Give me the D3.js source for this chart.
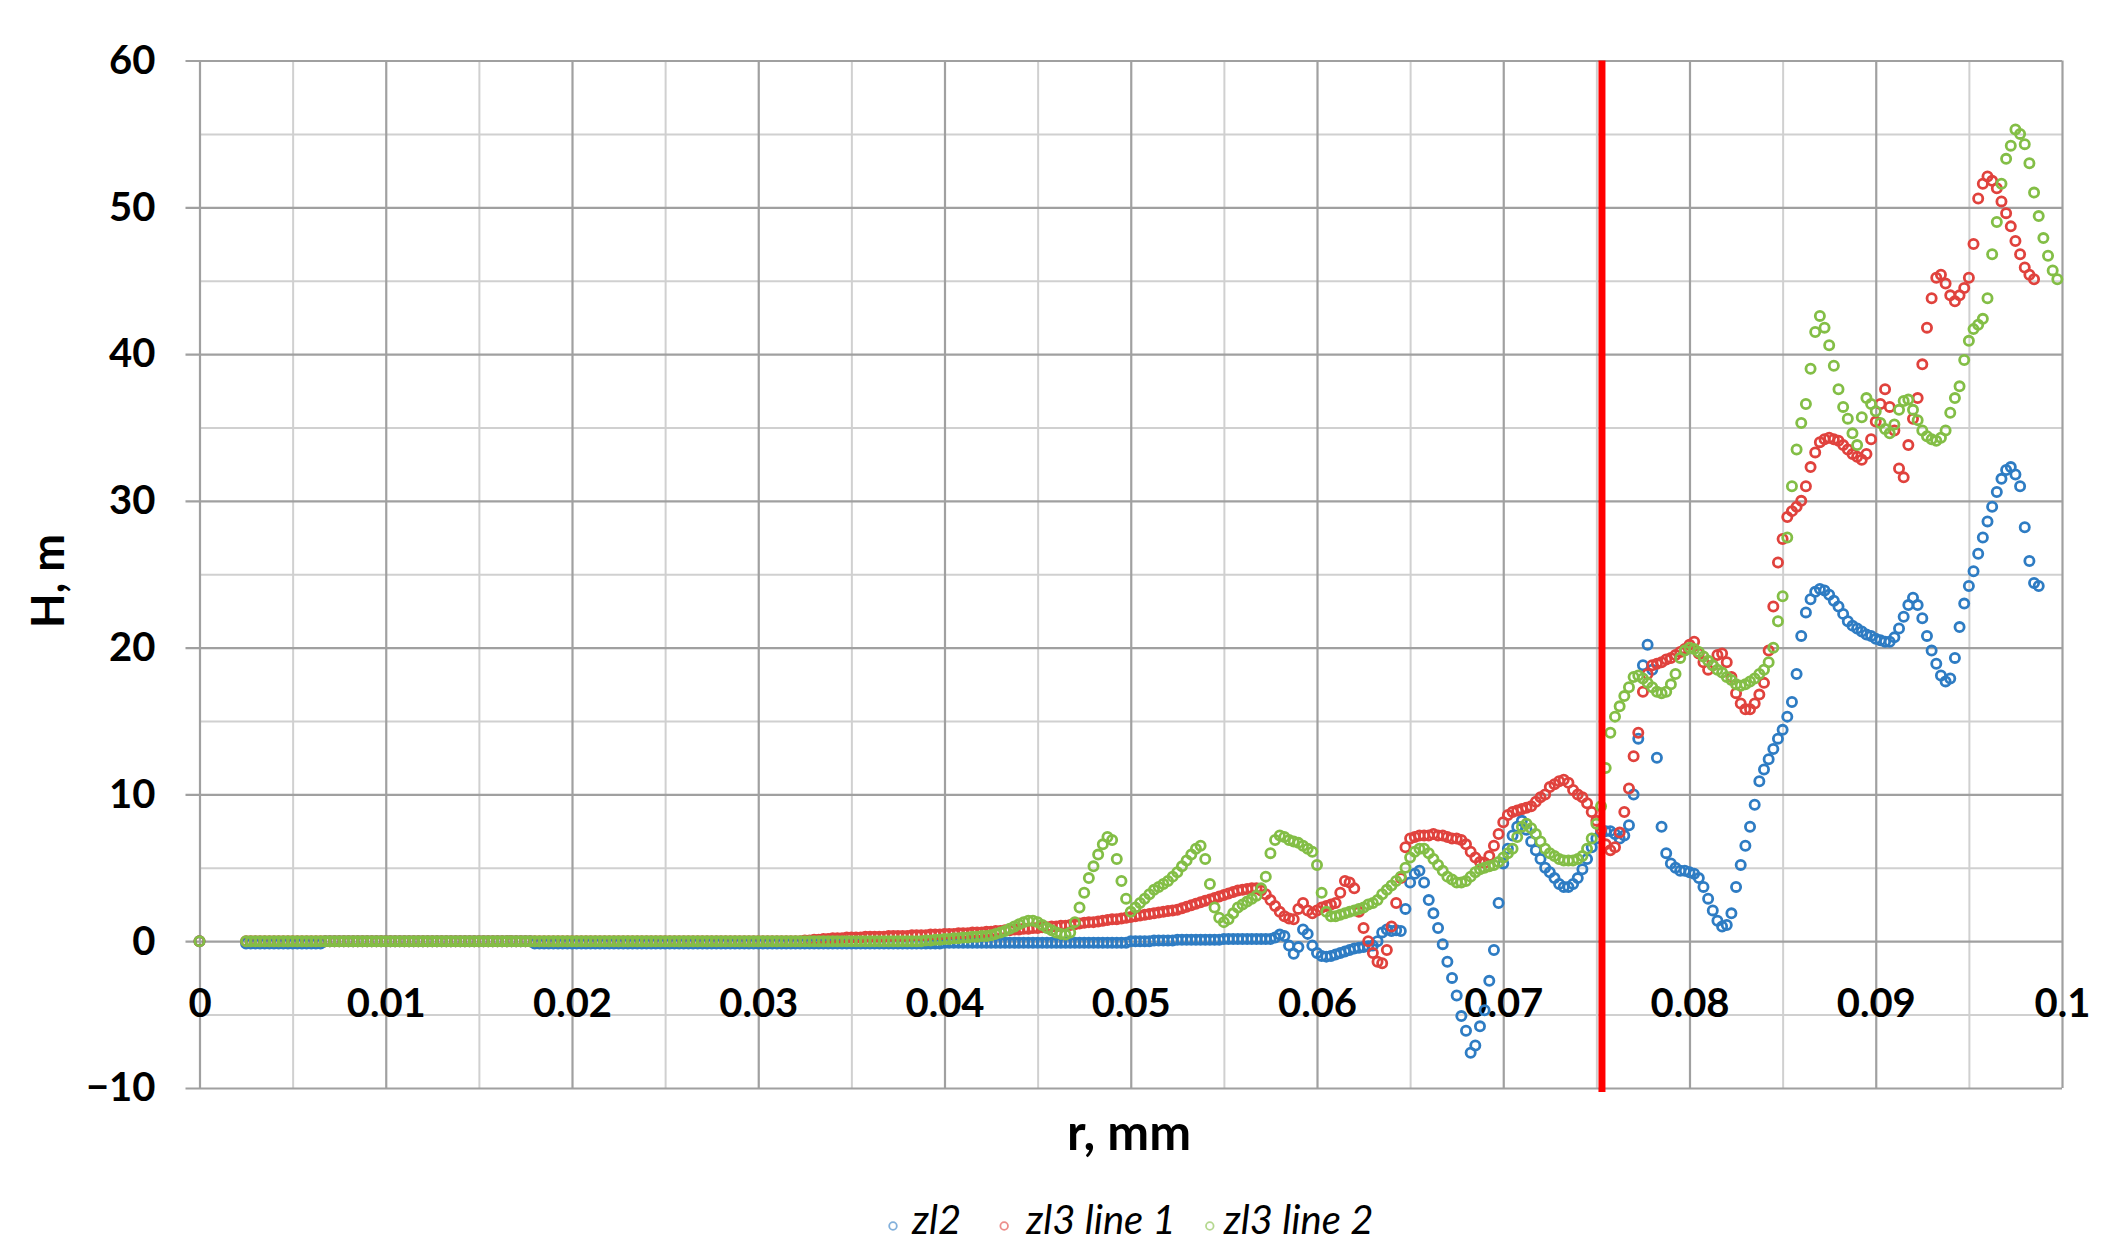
<!DOCTYPE html>
<html>
<head>
<meta charset="utf-8">
<script src="https://cdn.jsdelivr.net/npm/d3@7"></script>
<style>
  html, body { margin: 0; padding: 0; background: #fff; }
  svg { display: block; }
</style>
</head>
<body>
<div class="svg-container"></div>
<script>
const outerWidth = 2113;
const outerHeight = 1259;

// samples start at r = 0.0025 mm and come every 0.00025 mm, 20 values per row
const rStart = 0.0025;
const rStep = 0.00025;
const originH = 0;

const seriesNames = ['zl2', 'zl3 line 1', 'zl3 line 2'];
const seriesColors = ['#2e7cc3', '#e0423d', '#83be46'];

const zl2 = [
  -0.15,-0.15,-0.15,-0.15,-0.15,-0.15,-0.15,-0.15,-0.15,-0.15,-0.15,-0.15,-0.15,-0.15,-0.15,-0.15,-0.15,0,0,0,
  0,0,0,0,0,0,0,0,0,0,0,0,0,0,0,0,0,0,0,0,
  0,0,0,0,0,0,0,0,0,0,0,0,0,0,0,0,0,0,0,0,
  0,0,-0.15,-0.15,-0.15,-0.15,-0.15,-0.15,-0.15,-0.15,-0.15,-0.15,-0.15,-0.15,-0.15,-0.15,-0.15,-0.15,-0.15,-0.15,
  -0.15,-0.15,-0.15,-0.15,-0.15,-0.15,-0.15,-0.15,-0.15,-0.15,-0.15,-0.15,-0.15,-0.15,-0.15,-0.15,-0.15,-0.15,-0.15,-0.15,
  -0.15,-0.15,-0.15,-0.15,-0.15,-0.15,-0.15,-0.15,-0.15,-0.15,-0.15,-0.15,-0.15,-0.15,-0.15,-0.15,-0.15,-0.15,-0.15,-0.15,
  -0.15,-0.15,-0.15,-0.15,-0.15,-0.15,-0.15,-0.15,-0.15,-0.15,-0.15,-0.15,-0.15,-0.15,-0.15,-0.15,-0.15,-0.15,-0.15,-0.15,
  -0.15,-0.15,-0.15,-0.15,-0.15,-0.15,-0.15,-0.15,-0.15,-0.15,-0.1,-0.1,-0.1,-0.1,-0.1,-0.1,-0.1,-0.1,-0.1,-0.1,
  -0.1,-0.1,-0.1,-0.1,-0.1,-0.1,-0.1,-0.1,-0.1,-0.1,-0.1,-0.1,-0.1,-0.1,-0.1,-0.1,-0.1,-0.1,-0.1,-0.1,
  -0.1,-0.1,-0.1,-0.1,-0.1,-0.1,-0.1,-0.1,-0.1,-0.1,0,0,0,0,0,0.05,0.05,0.05,0.05,0.05,
  0.1,0.1,0.1,0.1,0.1,0.1,0.1,0.1,0.1,0.1,0.15,0.15,0.15,0.15,0.15,0.15,0.15,0.15,0.15,0.15,
  0.15,0.25,0.45,0.35,-0.3,-0.85,-0.4,0.8,0.5,-0.3,-0.8,-1.0,-1.05,-1.0,-0.9,-0.8,-0.7,-0.6,-0.5,-0.45,
  -0.4,-0.35,-0.3,0.0,0.6,0.8,0.7,0.75,0.7,2.2,4.0,4.6,4.8,4.0,2.8,1.9,0.9,-0.2,-1.4,-2.5,
  -3.7,-5.1,-6.1,-7.6,-7.1,-5.8,-4.7,-2.7,-0.6,2.6,5.3,6.3,7.2,7.8,8.2,7.6,6.8,6.2,5.6,5.0,
  4.7,4.3,3.9,3.7,3.7,3.9,4.3,4.9,5.6,6.4,7.0,7.4,7.5,7.5,7.3,7.0,7.2,7.9,10.0,13.8,
  18.8,20.2,18.5,12.5,7.8,6.0,5.3,5.0,4.8,4.8,4.7,4.6,4.3,3.7,2.9,2.1,1.4,1.0,1.1,1.9,
  3.7,5.2,6.5,7.8,9.3,10.9,11.7,12.4,13.1,13.8,14.4,15.3,16.3,18.2,20.8,22.4,23.3,23.8,24.0,23.9,
  23.6,23.2,22.8,22.3,21.8,21.5,21.3,21.1,20.9,20.8,20.6,20.5,20.4,20.4,20.7,21.3,22.1,22.9,23.4,22.9,
  22.0,20.8,19.8,18.9,18.1,17.7,17.9,19.3,21.4,23.0,24.2,25.2,26.4,27.5,28.6,29.6,30.6,31.5,32.1,32.3,
  31.8,31.0,28.2,25.9,24.4,24.2
];

const zl3Line1 = [
  0,0,0,0,0,0,0,0,0,0,0,0,0,0,0,0,0,0,0,0,
  0,0,0,0,0,0,0,0,0,0,0,0,0,0,0,0,0,0,0,0,
  0,0,0,0,0,0,0,0,0,0,0,0,0,0,0,0,0,0,0,0,
  0,0,0,0,0,0,0,0,0,0,0,0,0,0,0,0,0,0,0,0,
  0,0,0,0,0,0,0,0,0,0,0,0,0,0,0,0,0,0,0,0,
  0,0,0,0,0,0,0,0,0,0,0,0,0,0,0,0,0,0,0,0,
  0.05,0.05,0.1,0.1,0.15,0.15,0.2,0.2,0.2,0.25,0.25,0.25,0.25,0.3,0.3,0.3,0.3,0.3,0.35,0.35,
  0.35,0.35,0.35,0.4,0.4,0.4,0.4,0.45,0.45,0.45,0.5,0.5,0.5,0.55,0.55,0.55,0.6,0.6,0.6,0.65,
  0.65,0.7,0.7,0.75,0.75,0.8,0.8,0.85,0.85,0.9,0.9,0.95,0.95,1.0,1.0,1.05,1.05,1.1,1.15,1.2,
  1.25,1.3,1.3,1.35,1.4,1.45,1.5,1.5,1.55,1.6,1.65,1.7,1.75,1.8,1.85,1.9,1.95,2.0,2.05,2.1,
  2.15,2.25,2.35,2.45,2.55,2.65,2.75,2.85,2.95,3.05,3.15,3.25,3.35,3.45,3.5,3.55,3.6,3.6,3.45,3.2,
  2.8,2.4,2.0,1.7,1.55,1.5,2.2,2.6,2.1,1.9,2.1,2.3,2.4,2.5,2.6,3.3,4.1,4.0,3.6,2.0,
  0.9,0.0,-0.8,-1.4,-1.5,-0.6,1.0,2.6,4.3,6.4,7.0,7.1,7.2,7.2,7.2,7.3,7.2,7.2,7.1,7.0,
  7.0,6.9,6.6,6.1,5.7,5.4,5.35,5.8,6.5,7.3,8.1,8.6,8.8,8.9,9.0,9.1,9.2,9.5,9.8,10.0,
  10.5,10.7,10.9,11.0,10.8,10.3,10.0,9.8,9.4,8.8,8.2,7.6,6.6,6.2,6.4,7.4,8.8,10.4,12.6,14.2,
  17.0,18.2,18.8,18.9,19.0,19.2,19.3,19.5,19.7,19.9,20.2,20.4,19.6,19.0,18.5,18.8,19.5,19.6,19.0,18.0,
  16.9,16.2,15.8,15.8,16.2,16.8,17.6,19.8,22.8,25.8,27.4,28.9,29.3,29.6,30.0,31.0,32.3,33.3,34.0,34.2,
  34.3,34.2,34.1,33.8,33.5,33.2,33.0,32.8,33.2,34.2,35.4,36.6,37.6,36.4,34.8,32.2,31.6,33.8,35.6,37.0,
  39.3,41.8,43.8,45.2,45.4,44.8,44.0,43.6,44.0,44.5,45.2,47.5,50.6,51.6,52.1,51.8,51.3,50.4,49.6,48.7,
  47.7,46.8,45.9,45.4,45.1
];

const zl3Line2 = [
  0,0,0,0,0,0,0,0,0,0,0,0,0,0,0,0,0,0,0,0,
  0,0,0,0,0,0,0,0,0,0,0,0,0,0,0,0,0,0,0,0,
  0,0,0,0,0,0,0,0,0,0,0,0,0,0,0,0,0,0,0,0,
  0,0,0,0,0,0,0,0,0,0,0,0,0,0,0,0,0,0,0,0,
  0,0,0,0,0,0,0,0,0,0,0,0,0,0,0,0,0,0,0,0,
  0,0,0,0,0,0,0,0,0,0,0,0,0,0,0,0,0,0,0,0,
  0,0,0,0,0,0,0,0,0,0,0,0,0,0,0,0,0,0,0,0,
  0,0,0,0,0,0,0.05,0.05,0.1,0.1,0.15,0.15,0.2,0.2,0.25,0.25,0.3,0.3,0.35,0.35,
  0.4,0.5,0.6,0.7,0.85,1.0,1.15,1.3,1.4,1.4,1.3,1.1,0.9,0.75,0.6,0.5,0.45,0.6,1.3,2.3,
  3.3,4.3,5.1,5.9,6.6,7.1,6.9,5.6,4.1,2.9,2.0,2.3,2.6,2.9,3.2,3.5,3.7,3.9,4.1,4.4,
  4.7,5.1,5.5,5.9,6.3,6.5,5.6,3.9,2.3,1.6,1.3,1.5,1.9,2.3,2.5,2.7,2.9,3.1,3.6,4.4,
  6.0,6.9,7.2,7.1,6.9,6.8,6.7,6.5,6.3,6.1,5.2,3.3,2.0,1.7,1.7,1.8,1.9,2.0,2.1,2.2,
  2.3,2.5,2.6,2.8,3.2,3.5,3.8,4.1,4.4,5.0,5.7,6.1,6.3,6.3,6.0,5.6,5.2,4.8,4.4,4.2,
  4.0,4.0,4.1,4.4,4.7,4.9,5.0,5.1,5.2,5.4,5.7,6.0,6.3,7.1,7.8,8.0,7.7,7.3,6.8,6.3,
  6.0,5.8,5.6,5.5,5.5,5.5,5.6,5.8,6.3,7.0,8.0,9.2,11.8,14.2,15.3,16.0,16.7,17.3,18.0,18.1,
  17.9,17.6,17.3,17.0,16.9,17.0,17.5,18.2,19.3,19.8,20.0,19.9,19.7,19.4,19.1,18.8,18.5,18.3,18.0,17.8,
  17.5,17.4,17.5,17.7,17.9,18.2,18.5,19.0,20.0,21.8,23.5,27.5,31.0,33.5,35.3,36.6,39.0,41.5,42.6,41.8,
  40.6,39.2,37.6,36.4,35.6,34.6,33.8,35.7,37.0,36.6,36.1,35.3,34.9,34.6,35.2,36.2,36.8,36.9,36.2,35.5,
  34.8,34.4,34.2,34.1,34.3,34.8,36.0,37.0,37.8,39.6,40.9,41.7,42.0,42.4,43.8,46.8,49.0,51.6,53.3,54.2,
  55.3,55.0,54.3,53.0,51.0,49.4,47.9,46.7,45.7,45.1
];

const markerR = 0.0753;

const xTicks = [0, 0.01, 0.02, 0.03, 0.04, 0.05, 0.06, 0.07, 0.08, 0.09, 0.1];
const xTickLabels = ['0', '0.01', '0.02', '0.03', '0.04', '0.05', '0.06', '0.07', '0.08', '0.09', '0.1'];
const xMinor = [0.005, 0.015, 0.025, 0.035, 0.045, 0.055, 0.065, 0.075, 0.085, 0.095];
const yTicks = [-10, 0, 10, 20, 30, 40, 50, 60];
const yTickLabels = ['\u221210', '0', '10', '20', '30', '40', '50', '60'];
const yMinor = [-5, 5, 15, 25, 35, 45, 55];

const majorGrid = '#a0a0a0';
const minorGrid = '#d0d0d0';
const tickFont = 'Lato, "Open Sans", sans-serif';

const svg = d3.select('.svg-container')
  .append('svg')
  .attr('width', outerWidth)
  .attr('height', outerHeight);

svg.append('rect')
  .attr('width', outerWidth)
  .attr('height', outerHeight)
  .attr('fill', '#fff');

const xScale = d3.scaleLinear().domain([0, 0.1]).range([199.5, 2062]);
const yScale = d3.scaleLinear().domain([-10, 60]).range([1088, 60.5]);
const plotH = yScale(-10) - yScale(60);
const plotW = xScale(0.1) - xScale(0);

// minor grid
svg.append('g')
  .attr('transform', `translate(0, ${yScale(-10)})`)
  .call(d3.axisBottom(xScale).tickValues(xMinor).tickSize(-plotH).tickFormat(''))
  .call(g => g.select('.domain').remove())
  .selectAll('line').attr('stroke', minorGrid).attr('stroke-width', 2);

svg.append('g')
  .attr('transform', `translate(${xScale(0)}, 0)`)
  .call(d3.axisLeft(yScale).tickValues(yMinor).tickSize(-plotW).tickFormat(''))
  .call(g => g.select('.domain').remove())
  .selectAll('line').attr('stroke', minorGrid).attr('stroke-width', 2);

// major grid + y labels (ticks stick out 14px to the left)
svg.append('g')
  .attr('transform', `translate(0, ${yScale(-10)})`)
  .call(d3.axisBottom(xScale).tickValues(xTicks).tickSize(-plotH).tickFormat(''))
  .call(g => g.select('.domain').remove())
  .selectAll('line').attr('stroke', majorGrid).attr('stroke-width', 2.2);

const yAxis = svg.append('g')
  .attr('transform', `translate(${xScale(0) - 14}, 0)`)
  .call(d3.axisLeft(yScale).tickValues(yTicks).tickSize(-(plotW + 14)).tickPadding(30)
    .tickFormat((d, i) => yTickLabels[i]))
  .call(g => g.select('.domain').remove());
yAxis.selectAll('line').attr('stroke', majorGrid).attr('stroke-width', 2.2);
yAxis.selectAll('text')
  .style('font-family', tickFont)
  .style('font-weight', 700)
  .style('font-size', '40px')
  .attr('fill', '#000');

// x labels sit under the zero line
const xAxis = svg.append('g')
  .attr('transform', `translate(0, ${yScale(0)})`)
  .call(d3.axisBottom(xScale).tickValues(xTicks).tickSize(0).tickPadding(47)
    .tickFormat((d, i) => xTickLabels[i]))
  .call(g => g.select('.domain').remove());
xAxis.selectAll('text')
  .style('font-family', tickFont)
  .style('font-weight', 700)
  .style('font-size', '40px')
  .attr('fill', '#000');

const allSeries = [zl2, zl3Line1, zl3Line2].map((vals, k) => ({
  name: seriesNames[k],
  color: seriesColors[k],
  points: [[0, originH]].concat(vals.map((h, i) => [rStart + i * rStep, h]))
}));

allSeries.forEach(s => {
  svg.append('g')
    .selectAll('circle')
    .data(s.points)
    .enter()
    .append('circle')
    .attr('cx', d => xScale(d[0]))
    .attr('cy', d => yScale(d[1]))
    .attr('r', 4.6)
    .attr('fill', 'none')
    .attr('stroke', s.color)
    .attr('stroke-width', 2.8);
});

svg.append('line')
  .attr('x1', xScale(markerR))
  .attr('x2', xScale(markerR))
  .attr('y1', yScale(60))
  .attr('y2', yScale(-10) + 4)
  .attr('stroke', '#ff0000')
  .attr('stroke-width', 7);

svg.append('text')
  .attr('transform', `translate(47, 581) rotate(-90)`)
  .attr('text-anchor', 'middle')
  .attr('dominant-baseline', 'central')
  .style('font-family', tickFont)
  .style('font-weight', 700)
  .style('font-size', '45px')
  .text('H, m');

svg.append('text')
  .attr('x', 1129)
  .attr('y', 1150)
  .attr('text-anchor', 'middle')
  .style('font-family', tickFont)
  .style('font-weight', 700)
  .style('font-size', '50px')
  .text('r, mm');

// legend: marker-to-text offsets and gaps as in the original
const legendTextOffset = [19, 22, 14];
const legendGap = [36, 27, 0];
const legend = svg.append('g').attr('transform', 'translate(886, 1234)');
let cursor = 0;
allSeries.forEach((s, k) => {
  const item = legend.append('g').attr('transform', `translate(${cursor}, 0)`);
  item.append('circle')
    .attr('cx', 7)
    .attr('cy', -8)
    .attr('r', 3.8)
    .attr('fill', 'none')
    .attr('stroke', s.color)
    .attr('stroke-opacity', 0.6)
    .attr('stroke-width', 1.8);
  const label = item.append('text')
    .attr('x', 7 + legendTextOffset[k])
    .style('font-family', tickFont)
    .style('font-style', 'italic')
    .style('font-size', '40px')
    .attr('fill', '#000')
    .text(s.name);
  cursor += 7 + legendTextOffset[k] + label.node().getComputedTextLength() + legendGap[k];
});
</script>
</body>
</html>
